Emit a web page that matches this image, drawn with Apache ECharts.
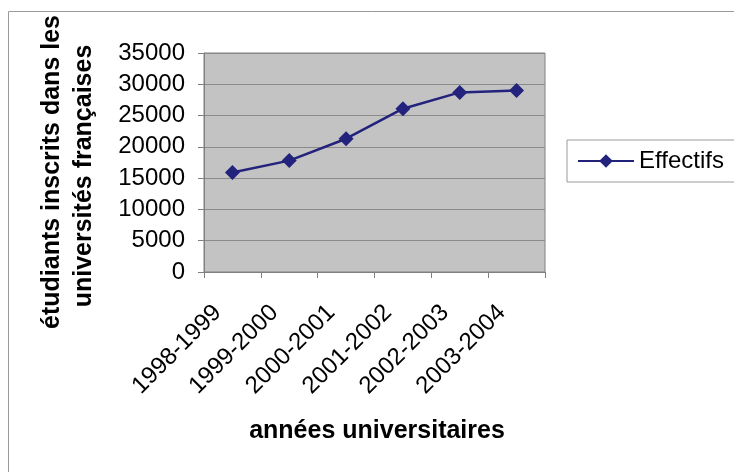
<!DOCTYPE html>
<html>
<head>
<meta charset="utf-8">
<script src="https://cdn.jsdelivr.net/npm/echarts@6/dist/echarts.min.js"></script>
<style>
html,body{margin:0;padding:0;background:#fff;}
#c{width:734px;height:472px;}
</style>
</head>
<body>
<div id="c"></div>
<script>
const categories = ['1998-1999','1999-2000','2000-2001','2001-2002','2002-2003','2003-2004'];
const effectifs = [15900, 17800, 21300, 26100, 28700, 29000];
const seriesName = 'Effectifs';
const yTitleLine1 = 'étudiants inscrits dans les';
const yTitleLine2 = 'universités françaises';
const xTitle = 'années universitaires';

const FONT = '"Liberation Sans", Arial, sans-serif';
const chart = echarts.init(document.getElementById('c'), null, {renderer:'canvas'});
chart.setOption({
  animation: false,
  backgroundColor: '#ffffff',
  textStyle: {fontFamily: FONT},
  grid: {left: 204, right: 189, top: 53, bottom: 200, show: true,
         backgroundColor: '#c3c3c3', borderColor: '#808080', borderWidth: 1},
  legend: {
    data: [seriesName], left: 567, top: 140, orient: 'vertical',
    itemWidth: 56, itemHeight: 17,
    padding: [9, 30, 9, 10],
    borderColor: '#9a9a9a', borderWidth: 1, backgroundColor: '#ffffff',
    textStyle: {fontSize: 24, color: '#000', fontFamily: FONT}
  },
  xAxis: {
    type: 'category', data: categories, boundaryGap: true,
    axisLine: {lineStyle: {color: '#808080', width: 1}},
    axisTick: {show: true, alignWithLabel: false, length: 6, lineStyle: {color: '#808080'}},
    axisLabel: {rotate: 45, margin: 22, padding: [0, 21, 0, 0], fontSize: 24, color: '#000', fontFamily: FONT, interval: 0}
  },
  yAxis: {
    type: 'value', min: 0, max: 35000, interval: 5000,
    axisLine: {show: true, lineStyle: {color: '#808080', width: 1}},
    axisTick: {show: true, length: 6, lineStyle: {color: '#808080'}},
    splitLine: {show: true, lineStyle: {color: '#8a8a8a', width: 1}},
    axisLabel: {margin: 19, fontSize: 24, color: '#000', fontFamily: FONT,
                formatter: function (v) { return String(v); }}
  },
  series: [{
    name: seriesName, type: 'line', data: effectifs,
    symbol: 'diamond', symbolSize: 15,
    lineStyle: {color: '#23237d', width: 2.5},
    itemStyle: {color: '#23237d'}
  }],
  graphic: [
    {type: 'rect', silent: true, z: -10,
     shape: {x: 8.5, y: 11.5, width: 800, height: 500},
     style: {fill: 'none', stroke: '#9a9a9a', lineWidth: 1}},
    {type: 'text', x: 52, y: 172, rotation: Math.PI / 2,
     style: {text: yTitleLine1, font: 'bold 25px ' + FONT, fill: '#000', align: 'center', verticalAlign: 'middle'}},
    {type: 'text', x: 84, y: 176, rotation: Math.PI / 2,
     style: {text: yTitleLine2, font: 'bold 25px ' + FONT, fill: '#000', align: 'center', verticalAlign: 'middle'}},
    {type: 'text', x: 377, y: 431,
     style: {text: xTitle, font: 'bold 25px ' + FONT, fill: '#000', align: 'center', verticalAlign: 'middle'}}
  ]
});
</script>
</body>
</html>
